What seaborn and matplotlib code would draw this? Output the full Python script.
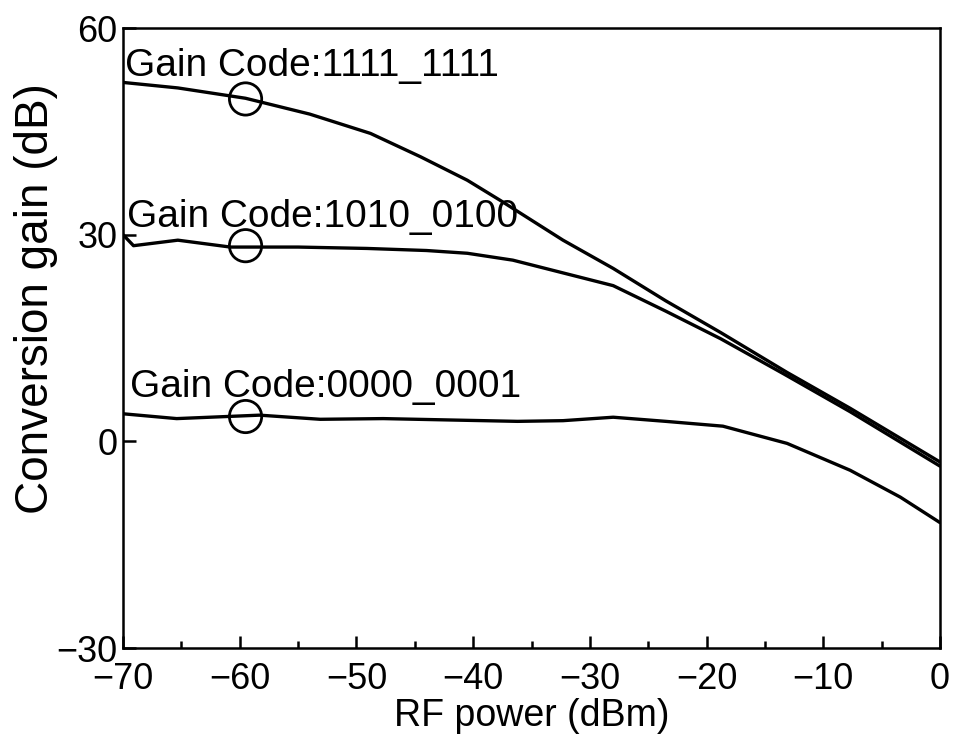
import pandas as pd
import numpy as np
import seaborn as sns
from matplotlib import pyplot as plt
from matplotlib.ticker import MultipleLocator

# values
x_1111 = [-70, -65.3, -59.5, -54, -48.8, -44.5, -40.5, -37.7, -32.3, -28, -23.5, -18.8, -13.1, -7.7, 0]
y_1111 = [52.1, 51.3, 49.8, 47.5, 44.7, 41.3, 37.9, 35.0, 29.2, 25.1, 20.4, 15.8, 10.0, 4.8, -3.0]

x_1010 = [-70, -69.1, -65.3, -60.8, -55, -49.1, -44, -40.5, -36.6, -28, -23.5, -18.8, -13.4, -7.7, 0]
y_1010 = [30.0, 28.4, 29.2, 28.2, 28.2, 28.0, 27.7, 27.3, 26.3, 22.6, 18.9, 14.9, 9.8, 4.3, -3.6]

x_0000 = [-70, -65.4, -58.3, -53.1, -47.7, -42, -36.2, -32.3, -28, -23.5, -18.6, -13.1, -7.7, -3.4, 0]
y_0000 = [4.0, 3.3, 3.8, 3.2, 3.3, 3.1, 2.9, 3.0, 3.5, 2.9, 2.2, -0.3, -4.2, -8.1, -11.8]

codes = ["1111_1111", "1010_0100", "0000_0001"]
label_x = [-69.8, -69.7, -69.4]
label_y = [53.0, 31.1, 6.5]
circle_x = [-59.5, -59.5, -59.5]
circle_y = [49.7, 28.4, 3.6]

df = pd.concat([
    pd.DataFrame({"x": x_1111, "y": y_1111, "code": codes[0]}),
    pd.DataFrame({"x": x_1010, "y": y_1010, "code": codes[1]}),
    pd.DataFrame({"x": x_0000, "y": y_0000, "code": codes[2]}),
])
circles = pd.DataFrame({"x": circle_x, "y": circle_y})

sns.set_style("ticks")
plt.rcParams["font.family"] = ["Liberation Sans", "DejaVu Sans"]
plt.rcParams["xtick.direction"] = "in"
plt.rcParams["ytick.direction"] = "in"
plt.rcParams["text.color"] = "black"
plt.rcParams["axes.labelcolor"] = "black"
plt.rcParams["xtick.color"] = "black"
plt.rcParams["ytick.color"] = "black"
plt.rcParams["axes.edgecolor"] = "black"

fig = plt.figure(figsize=(9.58, 7.37), dpi=100)
ax = fig.add_axes([123 / 958, 1 - 648 / 737, (940 - 123) / 958, (648 - 28) / 737])

sns.lineplot(data=df, x="x", y="y", hue="code", palette=["black"] * 3,
             linewidth=2.4, legend=False, ax=ax, sort=False)
sns.scatterplot(data=circles, x="x", y="y", marker="o", s=540,
                facecolors="none", edgecolor="black", linewidth=2.0, ax=ax, zorder=5)

for c, tx, ty in zip(codes, label_x, label_y):
    ax.text(tx, ty, "Gain Code:" + c, fontsize=28, va="baseline", ha="left")

ax.set_xlim(-70, 0)
ax.set_ylim(-30, 60)
ax.xaxis.set_major_locator(MultipleLocator(10))
ax.xaxis.set_minor_locator(MultipleLocator(5))
ax.yaxis.set_major_locator(MultipleLocator(30))
ax.tick_params(axis="both", which="major", labelsize=26, length=9, width=1.8, pad=4)
ax.tick_params(axis="x", which="major", pad=10)
ax.tick_params(axis="x", which="minor", length=5, width=1.8)
ax.set_xlabel("RF power (dBm)", fontsize=27, labelpad=1)
ax.set_ylabel("Conversion gain (dB)", fontsize=33)
ax.yaxis.set_label_coords(-0.08, 0.563)
for s in ax.spines.values():
    s.set_linewidth(1.8)
    s.set_visible(True)

fig.savefig("out.png", dpi=100)
